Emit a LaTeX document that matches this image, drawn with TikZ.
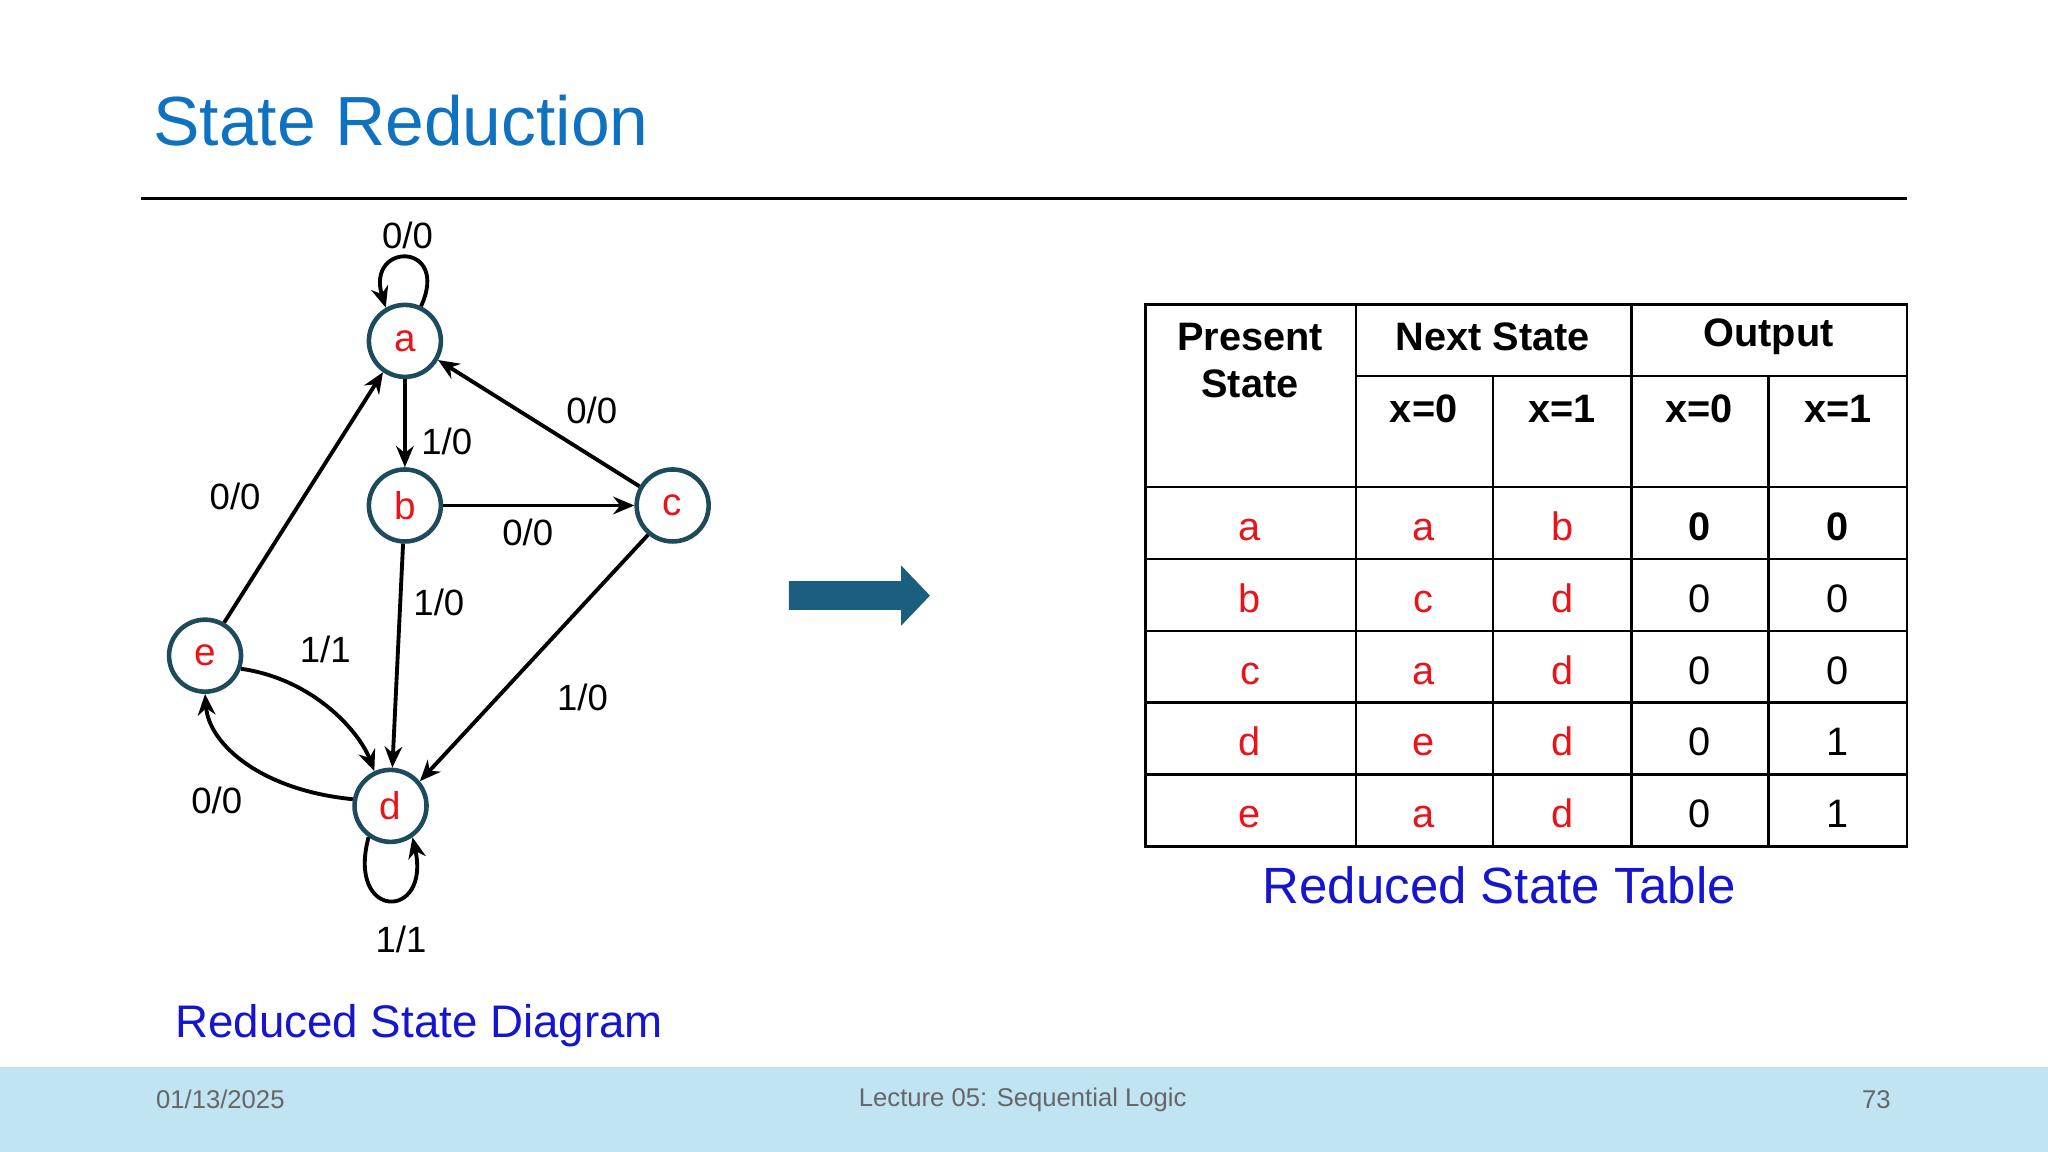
\documentclass[tikz,border=0pt]{standalone}
\usepackage{fontspec}
\setmainfont{Liberation Sans}
\usetikzlibrary{arrows.meta}
\definecolor{ttl}{HTML}{0E72C0}
\definecolor{ring}{HTML}{1E4B5C}
\definecolor{sred}{HTML}{E8141A}
\definecolor{dblue}{HTML}{1515D0}
\definecolor{band}{HTML}{C0E4F1}
\definecolor{barrow}{HTML}{1B5E7E}
\begin{document}
\begin{tikzpicture}[x=0.013061cm,y=-0.013061cm,
 st/.style={circle,draw=ring,line width=1.3pt,minimum size=0.72cm,inner sep=0pt,text=sred,font=\fontsize{11}{12}\selectfont},
 ed/.style={-{Stealth[length=6pt,width=5pt]},line width=1.1pt},
 el/.style={font=\fontsize{10.4}{12}\selectfont},
 cell/.style={font=\fontsize{11.3}{13}\selectfont},
 hd/.style={font=\bfseries\fontsize{11.3}{13}\selectfont},
 foot/.style={text=gray!80!black,font=\fontsize{7.3}{9}\selectfont}]
\useasboundingbox (0,0) rectangle (1568,882);
\fill[band] (0,817) rectangle (1568,882);
\node[anchor=west,text=ttl,font=\fontsize{19.8}{24}\selectfont,inner sep=0pt] (title) at (117,92) {State Reduction};
\draw[line width=0.6pt] (108,152) -- (1460,152);
% states
\node[st] (a) at (310,261) {a};
\node[st] (b) at (310,387) {b};
\node[st] (c) at (515,387) {c};
\node[st] (e) at (157,502) {e};
\node[st] (d) at (299,617) {d};
\draw[ed] (a.65) .. controls (345,185) and (280,185) .. (a.120);
\node[el] (la) at (312,180) {0/0};
\draw[ed] (a) -- (b); \node[el] (lab) at (342,338) {1/0};
\draw[ed] (b) -- (c); \node[el] (lbc) at (404,408) {0/0};
\draw[ed] (c.150) -- (a.-30); \node[el] (lca) at (453,314) {0/0};
\draw[ed] (e.60) -- (a.-125); \node[el] (lea) at (180,380) {0/0};
\draw[ed] (b) -- (d); \node[el] (lbd) at (336,461) {1/0};
\draw[ed] (c.-130) -- (d.40); \node[el] (lcd) at (446,534) {1/0};
\draw[ed] (e.-20) .. controls (240,520) and (275,560) .. (d.115); \node[el] (led) at (249,497) {1/1};
\draw[ed] (d.170) .. controls (200,605) and (160,570) .. (e.-90); \node[el] (lde) at (166,613) {0/0};
\draw[ed] (d.-125) .. controls (265,705) and (330,705) .. (d.-55); \node[el] (ld) at (307,719) {1/1};
\node[text=dblue,font=\fontsize{13}{15}\selectfont] (cap1) at (321,785) {Reduced State Diagram};
% arrow
\fill[barrow] (604,445) -- (690,445) -- (690,433) -- (712,456) -- (690,479) -- (690,467) -- (604,467) -- cycle;
% table
\draw[line width=0.7pt] (877,233) rectangle (1460,648);
\foreach \yy in {373,428,483,538,593} \draw[line width=0.7pt] (877,\yy) -- (1460,\yy);
\draw[line width=0.7pt] (1038,288) -- (1460,288);
\draw[line width=0.7pt] (1038,233) -- (1038,648);
\draw[line width=0.7pt] (1249,233) -- (1249,648);
\draw[line width=0.7pt] (1143,288) -- (1143,648);
\draw[line width=0.7pt] (1354,288) -- (1354,648);
\node[hd] (hp) at (957,258) {Present};
\node[hd] (hs) at (957,294) {State};
\node[hd] (hn) at (1143,258) {Next State};
\node[hd] (ho) at (1354,258) {Output};
\node[hd] (h1) at (1090,313) {x=0};
\node[hd] (h2) at (1196,313) {x=1};
\node[hd] (h3) at (1301,313) {x=0};
\node[hd] (h4) at (1407,313) {x=1};
\foreach \p/\n/\m/\o/\q [count=\i] in {a/a/b/0/0,b/c/d/0/0,c/a/d/0/0,d/e/d/0/1,e/a/d/0/1}{
 \pgfmathsetmacro{\yy}{401+55*(\i-1)}
 \node[cell,text=sred,text height=1.8ex,text depth=0pt] (p\i) at (957,\yy) {\p};
 \node[cell,text=sred,text height=1.8ex,text depth=0pt] (n\i) at (1090,\yy) {\n};
 \node[cell,text=sred,text height=1.8ex,text depth=0pt] (m\i) at (1196,\yy) {\m};
 \ifnum\i=1
 \node[hd,text height=1.8ex,text depth=0pt] (o\i) at (1301,\yy) {\o};
 \node[hd,text height=1.8ex,text depth=0pt] (q\i) at (1407,\yy) {\q};
 \else
 \node[cell,text height=1.8ex,text depth=0pt] (o\i) at (1301,\yy) {\o};
 \node[cell,text height=1.8ex,text depth=0pt] (q\i) at (1407,\yy) {\q};
 \fi}
\node[text=dblue,font=\fontsize{14.5}{17}\selectfont] (cap2) at (1148,678) {Reduced State Table};
% footer
\node[foot,anchor=west,inner sep=0pt] (f1) at (119,842) {01/13/2025};
\node[foot] (f2) at (783,842) {Lecture 05: Sequential Logic};
\node[foot,anchor=east,inner sep=0pt] (f3) at (1448,842) {73};
\end{tikzpicture}
\end{document}
